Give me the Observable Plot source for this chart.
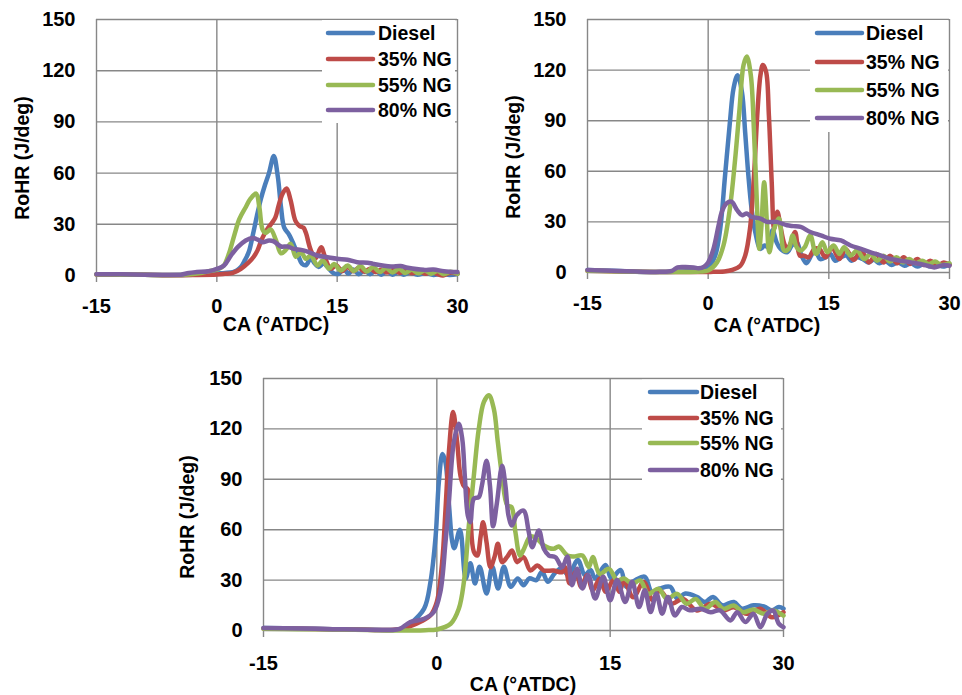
<!DOCTYPE html>
<html>
<head>
<meta charset="utf-8">
<script src="https://cdn.jsdelivr.net/npm/d3@7"></script>
<script src="https://cdn.jsdelivr.net/npm/@observablehq/plot@0.6"></script>
<style>
  html, body { margin: 0; padding: 0; background: #fff; }
  #root { position: relative; width: 962px; height: 695px; overflow: hidden; background: #fff; }
</style>
</head>
<body>
<div id="root"></div>
<script>
// ---------- shared labels ----------
const seriesNames = ["Diesel", "35% NG", "55% NG", "80% NG"];
const seriesColors = ["#4a7ebb", "#be4b48", "#98b954", "#7d60a0"];
const xTicks = [-15, 0, 15, 30];
const yTicks = [0, 30, 60, 90, 120, 150];
const xTitle = "CA (°ATDC)";
const yTitle = "RoHR (J/deg)";

// ---------- panel A (top left): [CA, RoHR] ----------
const aDiesel = [[-15,0.8],[-12,0.6],[-9,0.4],[-6,0.2],[-3,0.4],[-1,0.8],[0,1.2],[1,1.5],[2,2],[2.5,3],[3,5],[3.5,9],[4,14],[4.5,24],[5,35],[5.5,45],[6,53],[6.5,60],[7.1,70],[7.6,58],[8,40],[8.4,28],[9,24],[9.6,18],[10.2,11],[10.6,7],[11.1,6],[11.7,10],[12.2,7],[12.7,5],[13.3,7],[13.8,5],[14.5,1.5],[15.2,1],[15.8,4],[16.4,1],[17,3.5],[17.7,0.8],[18.4,3],[19.1,0.8],[19.8,2.8],[20.5,0.5],[21.2,2.5],[21.9,0.5],[22.6,2],[23.3,0.5],[24,1.8],[25,0.5],[26,1.5],[27,0.3],[28,1],[29,0.3],[30,0.8]];
const aNG35 = [[-15,0.6],[-12,0.5],[-9,0.4],[-6,0.2],[-3,0.3],[0,0.6],[1,1],[2,1.5],[3,3.9],[4,7.8],[4.6,11],[5.1,15],[5.5,20],[5.9,24],[6.4,28],[6.9,31],[7.3,34],[7.7,41],[8.2,48],[8.7,51],[9.2,44],[9.8,32],[10.3,29],[10.8,28],[11.1,25],[11.7,15],[12.3,10],[13,16.5],[13.6,9],[14.2,4],[14.9,6],[15.6,2.5],[16.3,5],[17,2.5],[17.7,4.5],[18.4,2.2],[19.1,4],[19.8,2],[20.5,3.5],[21.2,1.8],[22,3.2],[22.8,1.5],[23.6,2.8],[24.4,1.3],[25.2,2.4],[26,1],[26.8,2],[27.5,0.8],[28.2,0],[29,1.5],[30,1]];
const aNG55 = [[-15,0.6],[-12,0.5],[-9,0.4],[-6,0.3],[-4,0.5],[-2,1.5],[-1,2.5],[0,3.5],[0.5,4.5],[0.9,6],[1.5,12.7],[2.2,24],[2.8,33],[3.6,40],[4.2,45],[4.9,48],[5.3,40],[5.7,27],[6.1,25],[6.7,27],[7.35,21],[8,13],[8.6,15],[9.2,18.6],[9.85,11],[10.5,13.7],[11.1,9.8],[11.7,11.7],[12.55,5.9],[13.2,8.8],[14,3.9],[14.6,6.8],[15.45,2.9],[16.3,5.9],[17.1,2.6],[17.9,5.5],[18.7,2.3],[19.5,5],[20.3,2],[21.1,4.4],[21.9,1.8],[22.7,4],[23.5,1.5],[24.3,3.4],[25.1,1.3],[25.9,3],[26.7,1],[27.5,2.6],[28.3,0.8],[29.1,2.2],[30,1]];
const aNG80 = [[-15,0.8],[-12,0.7],[-9,0.5],[-6,0.4],[-4.5,0.5],[-3.5,1.5],[-2.5,2],[-1,2.5],[0,3.9],[0.9,5.9],[1.75,11.7],[2.6,16.6],[3.6,20.5],[4.45,22],[5.1,21],[5.7,19.5],[6.5,20.5],[7.1,20],[8,17],[8.8,17],[9.6,15.6],[10.5,15],[11.3,14],[12.5,11.7],[13.8,10.7],[15,9.8],[16.3,9.2],[17.5,7.8],[18.8,7.5],[19.5,6.8],[21.7,5.3],[22.9,5.5],[23.8,4.5],[25.8,3.3],[27,3.5],[28.3,2.5],[30,2]];

// ---------- panel B (top right) ----------
const bDiesel = [[-15,1.5],[-12,1],[-9,0.5],[-6,0.3],[-4,0.5],[-2,1],[-1,1.8],[0,3.2],[0.87,10],[1.5,26],[2.1,57.5],[2.7,89],[3.15,109],[3.65,117],[4.2,107],[4.6,83],[5,57.5],[5.4,37.7],[5.85,24],[6.5,14],[7,16],[7.5,15],[8,25],[8.5,18],[9,14],[9.8,12],[10.4,16],[11,18],[11.6,10],[12.2,5.5],[12.8,10],[13.3,14],[13.9,8],[14.6,9],[15.2,11],[15.8,7],[16.5,9],[17.2,10],[17.8,7],[18.5,9],[19.2,8],[19.9,6],[20.6,7.5],[21.3,5.5],[22,7],[22.8,4.5],[23.6,6],[24.4,4],[25.2,5.5],[26,3.5],[26.8,5],[27.6,3.5],[28.4,5],[29.2,3.5],[30,5]];
const bNG35 = [[-15,1],[-12,0.8],[-9,0.5],[-6,0.3],[-3,0.3],[0,0.3],[1,0.5],[2,0.6],[3,1.5],[4,4],[4.6,10],[5.2,26],[5.7,57.5],[6.1,93],[6.5,117],[6.8,123],[7.2,119],[7.55,93],[7.9,53.5],[8.2,26],[8.6,36],[9,27],[9.4,18],[9.8,14],[10.3,18],[10.8,24],[11.4,10],[11.9,10],[12.5,9],[13.2,14],[13.8,14],[14.6,9],[15.4,15],[16.3,8],[17.1,14],[18.1,7.5],[19,13],[20,6],[20.9,11],[21.8,6],[22.6,10],[23.5,5.5],[24.3,9],[25.1,5],[26,8],[26.8,4.5],[27.6,7],[28.5,4],[29.3,6],[30,4.5]];
const bNG55 = [[-15,1],[-12,0.8],[-9,0.5],[-6,0.3],[-3,0.3],[-1,0.6],[0,1.2],[1.1,6],[1.9,16],[2.7,38],[3.35,67],[3.9,97],[4.4,123],[4.8,128],[5.3,117],[5.7,83],[6.05,42],[6.35,14],[6.6,26],[6.96,53.5],[7.3,30],[7.6,12],[8.2,26],[8.8,32],[9.45,13],[10,14],[10.5,22],[11,15],[11.5,13],[12,15],[12.7,22],[13.4,11],[14.2,18],[14.8,12],[15.6,16],[16.3,11],[16.9,15],[17.7,10],[18.5,13],[19.4,8],[20.2,11],[21,7],[21.8,10],[22.6,6.5],[23.4,9],[24.2,6],[25,8],[25.8,5.5],[26.6,7],[27.4,5],[28.2,6.5],[29,4.5],[30,5.5]];
const bNG80 = [[-15,1.5],[-12,1],[-9,0.6],[-6,0.4],[-4.5,1],[-3.8,3],[-2.8,3.2],[-1.8,3],[-1.2,2.5],[-0.5,3.5],[0,6],[0.66,14],[1.3,28],[1.7,36],[2.3,41],[2.9,42],[3.6,37],[4.2,34],[4.8,35],[5.4,33],[6.5,32],[7.3,30],[8.5,30],[9.8,28],[10.6,27.5],[11.5,27],[12.7,24],[14,22],[15.2,20],[16.5,19],[17.7,16],[19,14],[20.2,12],[21.5,10],[22.7,8],[23.9,7],[25.2,6],[26.4,5],[27.3,4],[28.1,3],[29.3,4.5],[30,4]];

// ---------- panel C (bottom) ----------
const cDiesel = [[-15,1.5],[-12,1.2],[-9,0.8],[-6,0.5],[-4,0.3],[-3,1],[-2.3,4],[-1.1,13],[-0.55,29],[-0.1,56.5],[0.17,88],[0.49,105],[0.75,100],[1.04,76],[1.33,53],[1.51,49],[2,60],[2.5,31],[2.9,40],[3.3,28],[3.7,38],[4.3,22],[4.8,38],[5.3,25],[5.8,38],[6.4,26],[7,31],[7.5,27],[8,31],[8.6,30],[9.1,35],[9.6,29],[10.2,34],[10.8,37],[11.4,33],[12.2,42],[12.8,33],[13.3,36],[13.7,31],[14.6,39],[15.1,31],[15.9,36],[16.4,26],[17.2,30],[18,32],[18.6,23],[19.3,25],[20.2,26],[20.8,19],[21.5,22],[22.5,20],[23.2,17],[23.9,20],[24.7,15],[25.7,17],[26.4,13],[27.4,15],[28.3,14.3],[29,12],[29.6,14],[30,13]];
const cNG35 = [[-15,1.2],[-12,1],[-9,0.8],[-6,0.4],[-4,0.3],[-3,1],[-2.3,2.6],[-1.2,6],[-0.55,9],[0,17],[0.46,40.7],[0.75,72],[1.04,106],[1.41,130],[1.76,112],[2.05,92],[2.34,86],[2.68,84],[2.9,68],[3.2,47],[3.5,44.6],[3.8,56.5],[4,64.5],[4.3,52.6],[4.64,37.7],[5,44],[5.28,51.6],[5.65,40.7],[6.1,44],[6.5,47.6],[6.95,40.7],[7.5,43.7],[8.1,35.7],[8.7,38.7],[9.26,35.7],[10.1,35.7],[10.85,34.7],[11.1,37.7],[11.5,28],[12,35],[12.5,26],[13,33],[13.5,24],[14.1,31],[14.6,23],[15.3,30],[15.8,23],[16.2,29.8],[17,19.8],[17.9,28.8],[18.7,17.9],[19.3,23.8],[20.3,15.9],[21.3,18.8],[22.5,11.9],[23.7,15.9],[24.8,11.9],[25.7,13.9],[26.8,9.9],[28,12.9],[29,7.9],[30,10.9]];
const cNG55 = [[-15,1],[-12,0.8],[-9,0.6],[-6,0.3],[-3,0],[-1,0.2],[0,0.6],[1.2,4],[1.9,12.9],[2.34,28.8],[2.77,62.5],[3.2,92],[3.63,120],[4.07,136],[4.5,140],[4.93,132],[5.28,112],[5.65,92],[6.1,74.4],[6.46,73.5],[6.8,58.5],[7.2,44.6],[7.5,48],[8.1,56],[8.6,55],[9.26,50.6],[10.1,48.6],[10.55,50],[11.3,44.6],[11.85,44],[12.6,44.6],[13.15,37.7],[13.5,43.7],[14.1,33.7],[14.9,36.7],[15.6,29.8],[16.2,31],[16.9,27.8],[17.6,29.8],[18.3,21.8],[19.2,24.8],[19.9,18.8],[20.8,21.8],[21.6,15.9],[22.4,18.8],[23.2,12.9],[24.1,16.9],[24.8,12.9],[25.7,14.9],[26.5,10.9],[27.4,12.5],[28.3,9.9],[29.1,11.9],[30,8.9]];
const cNG80 = [[-15,1.5],[-12,1.2],[-9,0.8],[-6,0.5],[-4,0.3],[-3.2,1],[-2.3,5],[-1.1,7],[-0.26,11],[0.3,22.8],[0.75,52.6],[1.04,76],[1.47,112],[1.9,123],[2.2,114],[2.42,92],[2.68,68.5],[2.9,64.5],[3.2,78.4],[3.63,79.4],[3.9,86.3],[4.3,101],[4.6,86],[4.87,62],[5.2,76],[5.65,98],[5.94,86],[6.2,68.5],[6.5,62.5],[6.9,68.5],[7.5,71.4],[7.96,58.5],[8.25,49.6],[8.83,59.5],[9.26,48.6],[9.7,44.6],[10.27,43.6],[10.85,37.7],[11.3,44],[11.7,27],[12.14,36.7],[12.6,25],[13.1,33],[13.7,19],[14.4,32],[15,18],[15.6,30],[16.3,17],[16.9,29],[17.5,14],[18,24],[18.5,11],[19,22],[19.5,10],[20,20],[20.6,9],[21.2,14],[21.9,12],[22.8,13],[23.7,10.9],[24.5,12],[25.4,6],[26,10.9],[26.7,5],[27.4,9.9],[28,2],[28.6,9.9],[29.1,11.9],[29.6,4],[30,2]];

// ---------- layout (pixels) ----------
const FONT = '"Liberation Sans", Arial, sans-serif';
const GRID = "#878787";
const LINE_W = 4.5;
const panels = [
  {series: [aDiesel, aNG35, aNG55, aNG80], left: 0, top: 0, width: 480, height: 345,
   margin: {top: 19, right: 23, bottom: 70, left: 96}, tickPad: 16,
   legend: {x: 322, y: 20, w: 133, h: 103, sx0: 328, sx1: 373, tx: 378, rows: [33, 59, 85, 110]},
   yt: [22, 158], xt: [276, 324]},
  {series: [bDiesel, bNG35, bNG55, bNG80], left: 480, top: 0, width: 482, height: 345,
   margin: {top: 19, right: 13, bottom: 73, left: 107}, tickPad: 16,
   legend: {x: 810, y: 20, w: 138, h: 112, sx0: 817, sx1: 862, tx: 866, rows: [33, 62, 90, 118]},
   yt: [513, 157], xt: [767, 325]},
  {series: [cDiesel, cNG35, cNG55, cNG80], left: 170, top: 360, width: 630, height: 335,
   margin: {top: 18, right: 17, bottom: 65, left: 93}, tickPad: 18,
   legend: {x: 642, y: 379.5, w: 139, h: 104, sx0: 650, sx1: 697, tx: 700, rows: [392, 418, 443, 470]},
   yt: [187, 517], xt: [523, 684]}
];

const root = document.getElementById("root");
for (const p of panels) {
  const data = seriesNames.flatMap((name, i) => p.series[i].map(([ca, v]) => ({name, ca, v})));
  const chart = Plot.plot({
    width: p.width, height: p.height,
    marginTop: p.margin.top, marginRight: p.margin.right,
    marginBottom: p.margin.bottom, marginLeft: p.margin.left,
    style: {fontFamily: FONT, fontSize: "20px", fontWeight: "bold", color: "#000", background: "transparent", overflow: "visible"},
    x: {domain: [-15, 30]},
    y: {domain: [0, 150]},
    color: {domain: seriesNames, range: seriesColors},
    marks: [
      Plot.gridY(yTicks, {stroke: GRID, strokeOpacity: 1, strokeWidth: 1.4}),
      Plot.gridX(xTicks, {stroke: GRID, strokeOpacity: 1, strokeWidth: 1.4}),
      Plot.axisX(xTicks, {tickSize: 7, tickPadding: p.tickPad, stroke: GRID, strokeWidth: 1.4, label: null, tickFormat: d => `${d}`}),
      Plot.axisY(yTicks, {tickSize: 0, tickPadding: 21, label: null, tickFormat: d => `${d}`}),
      Plot.line(data, {x: "ca", y: "v", z: "name", stroke: "name", strokeWidth: LINE_W,
        curve: "catmull-rom", strokeLinejoin: "round", strokeLinecap: "round"})
    ]
  });
  chart.style.position = "absolute";
  chart.style.left = p.left + "px";
  chart.style.top = p.top + "px";
  root.appendChild(chart);
}

// ---------- overlay: legends and axis titles ----------
const over = d3.select(root).append("svg")
  .attr("width", 962).attr("height", 695)
  .style("position", "absolute").style("left", "0px").style("top", "0px")
  .style("font-family", FONT).style("font-weight", "bold");

for (const p of panels) {
  const L = p.legend;
  over.append("rect").attr("x", L.x).attr("y", L.y).attr("width", L.w).attr("height", L.h).attr("fill", "#fff");
  seriesNames.forEach((name, i) => {
    over.append("line").attr("x1", L.sx0).attr("x2", L.sx1).attr("y1", L.rows[i]).attr("y2", L.rows[i])
      .attr("stroke", seriesColors[i]).attr("stroke-width", LINE_W).attr("stroke-linecap", "round");
    over.append("text").attr("x", L.tx).attr("y", L.rows[i]).attr("dy", "0.35em")
      .attr("font-size", 19.5).attr("fill", "#000").text(name);
  });
  over.append("text").attr("transform", `translate(${p.yt[0]},${p.yt[1]}) rotate(-90)`)
    .attr("text-anchor", "middle").attr("dy", "0.35em").attr("font-size", 19.5).attr("fill", "#000").text(yTitle);
  over.append("text").attr("x", p.xt[0]).attr("y", p.xt[1]).attr("text-anchor", "middle").attr("dy", "0.35em")
    .attr("font-size", 19.5).attr("fill", "#000").text(xTitle);
}
</script>
</body>
</html>
